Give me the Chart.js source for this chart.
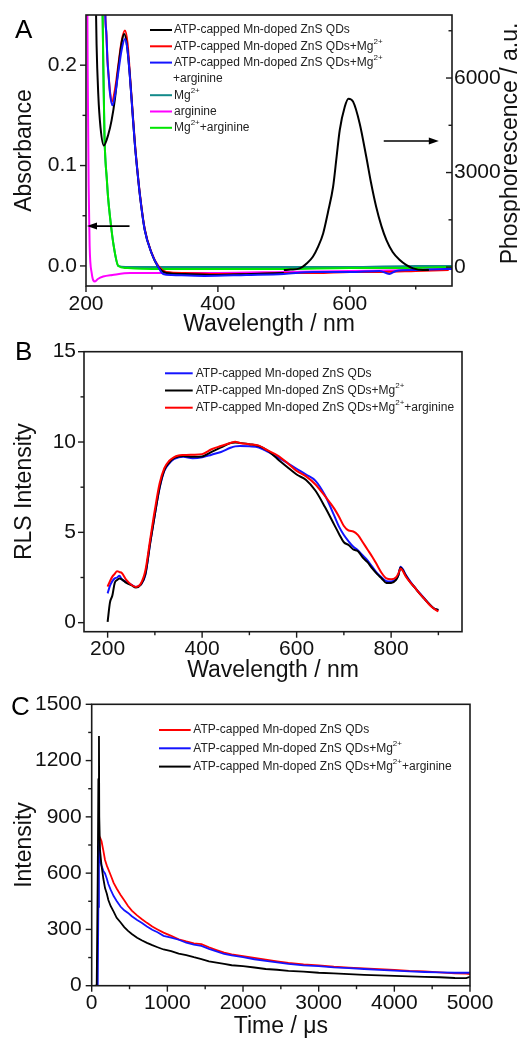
<!DOCTYPE html>
<html>
<head>
<meta charset="utf-8">
<script src="https://cdn.jsdelivr.net/npm/chart.js@4.4.0/dist/chart.umd.min.js"></script>
<style>
  html, body { margin:0; padding:0; background:#fff; overflow:hidden; }
  .panel { position:absolute; left:0; width:520px; }
</style>
</head>
<body>
<div class="panel" style="top:0"><canvas id="chartA" width="520" height="345"></canvas></div>
<div class="panel" style="top:330px"><canvas id="chartB" width="520" height="360"></canvas></div>
<div class="panel" style="top:680px"><canvas id="chartC" width="520" height="365"></canvas></div>
<script>
// ---------- DATA : panel A (absorbance + phosphorescence) ----------
const wlTicksA = [200, 400, 600];
const wlMinorA = [300, 500, 700];
const absTicks = [0, 0.1, 0.2];
const absMinor = [0.05, 0.15];
const phosTicks = [0, 3000, 6000];
const phosMinor = [1500, 4500, 7500];

const absBlackWl = [212, 214, 216, 218.6, 222, 227, 233.8, 238.8, 244, 249, 254, 258, 262, 266.7, 270, 274, 278, 282, 289, 299.5, 309.6, 322, 350, 400, 450, 500];
const absBlack   = [0.45, 0.30, 0.221, 0.171, 0.138, 0.120, 0.131, 0.145, 0.167, 0.197, 0.222, 0.231, 0.220, 0.188, 0.158, 0.122, 0.094, 0.069, 0.036, 0.0126, -0.001, -0.007, -0.008, -0.009, -0.008, -0.007];

const absRedWl = [227, 229, 231, 232.5, 234.4, 236.4, 239, 244, 249, 254, 259, 263, 266.7, 270, 274, 278, 282, 289, 299.5, 309.6, 322, 350, 400, 450, 500, 550, 600, 650, 700, 750];
const absRed   = [0.40, 0.26, 0.23, 0.206, 0.189, 0.174, 0.163, 0.176, 0.200, 0.224, 0.2345, 0.222, 0.190, 0.160, 0.124, 0.095, 0.070, 0.037, 0.013, 0.0, -0.006, -0.007, -0.008, -0.008, -0.007, -0.007, -0.006, -0.006, -0.005, -0.004];

const absBlueWl = [227, 229, 231, 232.5, 234.4, 236.4, 240, 244, 249, 254, 259, 263, 266.7, 270, 274, 278, 282, 289, 299.5, 309.6, 317, 330, 380, 443, 500, 544, 600, 645, 660, 670, 700, 746, 755];
const absBlue   = [0.40, 0.26, 0.23, 0.205, 0.188, 0.172, 0.160, 0.170, 0.193, 0.215, 0.226, 0.215, 0.187, 0.158, 0.122, 0.094, 0.069, 0.036, 0.0126, -0.001, -0.008, -0.009, -0.010, -0.009, -0.008, -0.006, -0.006, -0.005, -0.008, -0.005, -0.004, -0.003, -0.003];

const mgWl = [223, 225, 226.5, 228, 229.5, 231.3, 233.5, 236.4, 241.4, 249, 260, 300, 400, 500, 600, 700, 755];
const mg   = [0.45, 0.26, 0.19, 0.13, 0.105, 0.089, 0.068, 0.049, 0.0225, 0.0, -0.001, -0.001, -0.001, -0.001, -0.001, 0.0, 0.0];

const argWl = [201, 202.5, 204, 205.5, 208.6, 213.6, 218, 226, 240, 267, 300, 400, 500, 600, 700, 755];
const arg   = [0.40, 0.20, 0.08, 0.02, -0.007, -0.0156, -0.013, -0.0106, -0.009, -0.007, -0.007, -0.007, -0.006, -0.005, -0.004, -0.003];

const mgArgWl = [223, 225, 226.5, 228, 229.5, 231.3, 233.5, 236.4, 241.4, 249, 260, 300, 400, 500, 600, 700, 755];
const mgArg   = [0.45, 0.26, 0.19, 0.13, 0.105, 0.089, 0.068, 0.049, 0.0225, 0.0, -0.002, -0.003, -0.003, -0.003, -0.002, -0.002, -0.001];

const phosWl = [500, 510, 524, 535, 544, 552, 559.6, 567, 574.7, 580, 584.8, 592.4, 598, 605, 615, 625, 632, 640, 648, 655.6, 665, 675.8, 686, 696, 711, 720];
const phos   = [-95, -80, -42, 120, 328, 650, 1069, 1750, 2550, 3500, 4350, 5090, 5344, 5250, 4560, 3500, 2700, 1915, 1300, 857, 480, 222, 60, -42, -95, -90];

// ---------- DATA : panel B (RLS spectra) ----------
const wlTicksB = [200, 400, 600, 800];
const wlMinorB = [300, 500, 700, 900];
const rlsTicks = [0, 5, 10, 15];
const rlsMinor = [2.5, 7.5, 12.5];

const rlsWl = [200, 205, 210, 215, 220, 225, 230, 240, 250, 260, 270, 280, 290, 300, 310, 320, 330, 340, 350, 360,
               380, 400, 420, 440, 460, 470, 480, 500, 520, 540, 560, 580, 600, 620, 640, 660, 680, 690, 700, 710,
               720, 730, 740, 750, 760, 770, 780, 790, 800, 810, 815, 820, 825, 830, 840, 850, 860, 870, 880, 890, 900];
const rlsQD = [1.62, 2.05, 2.3, 2.45, 2.5, 2.6, 2.4, 2.25, 2.1, 1.98, 2.1, 2.65, 4.4, 6.0, 7.45, 8.4, 8.8, 9.05, 9.15, 9.18,
               9.1, 9.15, 9.3, 9.45, 9.68, 9.76, 9.78, 9.76, 9.7, 9.45, 9.15, 8.85, 8.52, 8.2, 7.85, 7.05, 5.9, 5.3, 4.85, 4.5,
               4.2, 4.0, 3.72, 3.45, 3.1, 2.75, 2.5, 2.3, 2.28, 2.4, 2.6, 3.1, 2.95, 2.7, 2.3, 1.95, 1.65, 1.35, 1.05, 0.8, 0.68];
const rlsMg = [0.05, 1.12, 1.5, 2.2, 2.36, 2.45, 2.4, 2.2, 2.08, 1.95, 2.1, 2.7, 4.4, 6.0, 7.5, 8.45, 8.85, 9.1, 9.2, 9.22,
               9.18, 9.2, 9.45, 9.7, 9.95, 9.98, 9.95, 9.88, 9.78, 9.5, 9.05, 8.62, 8.2, 7.9, 7.3, 6.4, 5.4, 4.9, 4.45, 4.3,
               4.05, 3.95, 3.6, 3.35, 3.0, 2.7, 2.45, 2.2, 2.2, 2.35, 2.6, 3.05, 2.9, 2.65, 2.25, 1.95, 1.62, 1.33, 1.05, 0.8, 0.7];
const rlsMgArg = [2.0, 2.3, 2.55, 2.7, 2.85, 2.8, 2.75, 2.35, 2.1, 1.98, 2.15, 2.9, 4.6, 6.25, 7.7, 8.55, 8.95, 9.15, 9.25, 9.28,
                  9.3, 9.33, 9.6, 9.78, 9.95, 10.02, 9.95, 9.88, 9.8, 9.52, 9.25, 8.85, 8.4, 8.1, 7.65, 7.0, 6.3, 5.85, 5.35, 5.1,
                  5.05, 4.85, 4.45, 4.05, 3.65, 3.2, 2.75, 2.45, 2.4, 2.5, 2.7, 3.0, 2.85, 2.6, 2.25, 1.95, 1.62, 1.33, 1.02, 0.78, 0.62];

// ---------- DATA : panel C (decay curves) ----------
const timeTicks = [0, 1000, 2000, 3000, 4000, 5000];
const timeMinor = [500, 1500, 2500, 3500, 4500];
const intTicks = [0, 300, 600, 900, 1200, 1500];
const intMinor = [150, 450, 750, 1050, 1350];

const decayTime = [0, 40, 66, 80, 88, 96, 100, 110, 130, 154, 176, 200, 220, 250, 290, 330, 380, 430, 480, 530,
                   600, 660, 730, 800, 870, 950, 1050, 1150, 1250, 1350, 1450, 1550, 1650, 1750, 1850, 2000, 2150, 2300, 2450, 2600,
                   2800, 3000, 3200, 3400, 3600, 3800, 4000, 4200, 4400, 4600, 4800, 4950, 5000];
const decayQD = [null, null, null, null, null, 812, 795, 790, 770, 720, 670, 640, 620, 590, 548, 518, 485, 455, 425, 400,
                 375, 356, 335, 315, 300, 283, 266, 247, 236, 226, 222, 205, 190, 176, 167, 158, 148, 139, 130, 121,
                 113, 108, 101, 96, 92, 88, 84, 79, 76, 71, 66, 65, 62];
const decayMg = [null, null, null, 0, 420, 780, 730, 670, 640, 612, 598, 570, 542, 512, 478, 452, 422, 402, 388, 370,
                 350, 336, 316, 298, 285, 266, 256, 245, 229, 219, 212, 196, 183, 169, 162, 152, 141, 132, 124, 116,
                 108, 104, 98, 94, 89, 84, 80, 76, 73, 71, 69, 69, 70];
const decayMgArg = [null, 0, 0, 600, 1100, 1331, 900, 723, 640, 570, 520, 490, 457, 425, 395, 362, 338, 312, 292, 276,
                    256, 242, 228, 216, 205, 193, 184, 171, 163, 152, 142, 130, 123, 116, 109, 104, 97, 89, 85, 79,
                    75, 69, 66, 62, 58, 55, 52, 50, 47, 45, 41, 40, 47];

// ---------- STÍLUS ----------
const FONT = "'Liberation Sans', Arial, Helvetica, sans-serif";
const INK = '#111';
const C_BLACK = '#000000', C_RED = '#ff0000', C_BLUE = '#1414ff';
const C_TEAL = '#138a8a', C_MAG = '#ff00ff', C_GREEN = '#00e600';

function pts(xs, ys){ return xs.map((x, i) => ({ x, y: ys[i] })); }

function lineSet(xs, ys, color, order, extra){
  return Object.assign({
    data: pts(xs, ys), borderColor: color, backgroundColor: color,
    borderWidth: 2, pointRadius: 0, fill: false, order, spanGaps: false
  }, extra || {});
}

function axisX(min, max, ticks, title, h, titlePad){
  return {
    type: 'linear', min, max,
    afterBuildTicks: s => { s.ticks = ticks.map(v => ({ value: v })); },
    afterFit: s => { s.height = h; s.paddingLeft = 0; s.paddingRight = 0; },
    grid: { display: false, drawTicks: true, tickLength: 6 },
    border: { display: false },
    ticks: { color: INK, padding: 1.5, autoSkip: false, maxRotation: 0, font: { family: FONT, size: 21, lineHeight: 1 }, callback: v => String(v) },
    title: { display: true, text: title, color: INK, font: { family: FONT, size: 23 }, padding: { top: 0, bottom: titlePad } }
  };
}

function axisY(min, max, ticks, fmt, title, w, labelPad, pos){
  const ax = {
    type: 'linear', min, max, position: pos || 'left',
    afterBuildTicks: s => { s.ticks = ticks.map(v => ({ value: v })); },
    afterFit: s => { s.width = w; s.paddingTop = 0; s.paddingBottom = 0; },
    grid: { display: false, drawTicks: pos !== 'right', tickLength: 6 },
    border: { display: false },
    ticks: { color: INK, padding: labelPad, autoSkip: false, font: { family: FONT, size: 21, lineHeight: 1 }, callback: fmt },
    title: { display: false }
  };
  if(title){
    ax.title = { display: true, text: title, color: INK, font: { family: FONT, size: 23 }, padding: { top: 11, bottom: 0 } };
  }
  return ax;
}

// szöveg felső indexszel: {2+}
function richText(ctx, str, x, y, size){
  const parts = str.split(/(\{[^}]*\})/);
  let cx = x;
  parts.forEach(p => {
    if(!p) return;
    if(p[0] === '{'){
      const t = p.slice(1, -1);
      ctx.font = `${Math.round(size * 0.65)}px ${FONT}`;
      ctx.fillText(t, cx, y - size * 0.4);
      cx += ctx.measureText(t).width;
    }else{
      ctx.font = `${size}px ${FONT}`;
      ctx.fillText(p, cx, y);
      cx += ctx.measureText(p).width;
    }
  });
}

function drawTicks(ctx, chart, t){
  const s = chart.scales[t.id];
  const a = chart.chartArea;
  const one = (v, len) => {
    const p = s.getPixelForValue(v);
    ctx.beginPath();
    if(s.position === 'left'){
      ctx.moveTo(a.left, p); ctx.lineTo(a.left + (t.inward ? len : -len), p);
    }else if(s.position === 'right'){
      ctx.moveTo(a.right, p); ctx.lineTo(a.right + (t.inward ? -len : len), p);
    }else{
      ctx.moveTo(p, a.bottom); ctx.lineTo(p, a.bottom + (t.inward ? -len : len));
    }
    ctx.stroke();
  };
  t.major.forEach(v => one(v, 6));
  t.minor.forEach(v => one(v, 3.5));
}

function drawArrow(ctx, x1, y1, x2, y2){
  const ang = Math.atan2(y2 - y1, x2 - x1);
  const hl = 10, hw = 3.5;
  const c = Math.cos(ang), s = Math.sin(ang);
  ctx.beginPath(); ctx.moveTo(x1, y1); ctx.lineTo(x2 - hl * c * 0.7, y2 - hl * s * 0.7); ctx.stroke();
  ctx.beginPath();
  ctx.moveTo(x2, y2);
  ctx.lineTo(x2 - hl * c + hw * s, y2 - hl * s - hw * c);
  ctx.lineTo(x2 - hl * c - hw * s, y2 - hl * s + hw * c);
  ctx.closePath(); ctx.fill();
}

// díszítés panelenként (keret, kis osztások, jelmagyarázat, betű, nyilak)
const deco = {};
const decoPlugin = {
  id: 'deco',
  afterDraw(chart){
    const d = deco[chart.canvas.id];
    if(!d) return;
    const ctx = chart.ctx, a = chart.chartArea;
    ctx.save();
    ctx.strokeStyle = '#1a1a1a'; ctx.lineWidth = 1.6;
    ctx.strokeRect(a.left, a.top, a.right - a.left, a.bottom - a.top);
    ctx.lineWidth = 1.4;
    d.ticks.forEach(t => drawTicks(ctx, chart, t));

    (d.arrows || []).forEach(ar => {
      const xs = chart.scales.x, ys = chart.scales[ar.axis];
      ctx.strokeStyle = '#000'; ctx.fillStyle = '#000'; ctx.lineWidth = 1.6;
      drawArrow(ctx, xs.getPixelForValue(ar.from), ys.getPixelForValue(ar.y), xs.getPixelForValue(ar.to), ys.getPixelForValue(ar.y));
    });

    const L = d.legend;
    let y = a.top + L.dy;
    ctx.textAlign = 'left'; ctx.textBaseline = 'middle';
    L.items.forEach(it => {
      ctx.strokeStyle = it.color; ctx.lineWidth = 2;
      ctx.beginPath(); ctx.moveTo(a.left + L.x1, y); ctx.lineTo(a.left + L.x2, y); ctx.stroke();
      ctx.fillStyle = '#222';
      richText(ctx, it.text, a.left + L.tx, y, 12);
      y += L.step;
      if(it.more){ richText(ctx, it.more, a.left + L.tx - 1, y, 12); y += L.step; }
    });

    ctx.fillStyle = '#000';
    ctx.textBaseline = 'alphabetic';
    ctx.font = `26px ${FONT}`;
    ctx.fillText(d.letter, d.letterX, d.letterY);

    if(d.rightTitle){
      ctx.translate(chart.width - 9, (a.top + a.bottom) / 2 - 7);
      ctx.rotate(-Math.PI / 2);
      ctx.textAlign = 'center'; ctx.textBaseline = 'middle';
      ctx.fillStyle = INK;
      ctx.font = `23px ${FONT}`;
      ctx.fillText(d.rightTitle, 0, 0);
    }
    ctx.restore();
  }
};

const baseOpts = (padTop, padRight) => ({
  responsive: false, animation: false, devicePixelRatio: 1, events: [],
  layout: { padding: { top: padTop, right: padRight, left: 0, bottom: 0 } },
  plugins: { legend: { display: false }, tooltip: { enabled: false } }
});

// ---------- A ----------
deco.chartA = {
  letter: 'A', letterX: 15, letterY: 38,
  rightTitle: 'Phosphorescence / a.u.',
  ticks: [
    { id: 'x', major: wlTicksA, minor: wlMinorA },
    { id: 'y', major: absTicks, minor: absMinor },
    { id: 'y1', major: phosTicks, minor: phosMinor, inward: true }
  ],
  arrows: [
    { from: 266, to: 201.5, y: 0.0397, axis: 'y' },
    { from: 651.5, to: 735, y: 4000, axis: 'y1' }
  ],
  legend: { x1: 64, x2: 86, tx: 88, dy: 15, step: 16.3, items: [
    { color: C_BLACK, text: 'ATP-capped Mn-doped ZnS QDs' },
    { color: C_RED, text: 'ATP-capped Mn-doped ZnS QDs+Mg{2+}' },
    { color: C_BLUE, text: 'ATP-capped Mn-doped ZnS QDs+Mg{2+}', more: '+arginine' },
    { color: C_TEAL, text: 'Mg{2+}' },
    { color: C_MAG, text: 'arginine' },
    { color: C_GREEN, text: 'Mg{2+}+arginine' }
  ]}
};
const mono = { cubicInterpolationMode: 'monotone' };
const optsA = baseOpts(15, 0);
optsA.scales = {
  x: axisX(200, 755, wlTicksA, 'Wavelength / nm', 59, 6.7),
  y: axisY(-0.02, 0.25, absTicks, v => v.toFixed(1), 'Absorbance', 86, 3),
  y1: axisY(-600, 8000, phosTicks, v => String(v), null, 68, 2, 'right')
};
new Chart(document.getElementById('chartA'), {
  type: 'line',
  data: { datasets: [
    lineSet(phosWl, phos, C_BLACK, 0, Object.assign({ yAxisID: 'y1' }, mono)),
    lineSet(absBlueWl, absBlue, C_BLUE, 1, Object.assign({ yAxisID: 'y' }, mono)),
    lineSet(absBlackWl, absBlack, C_BLACK, 2, Object.assign({ yAxisID: 'y' }, mono)),
    lineSet(absRedWl, absRed, C_RED, 3, Object.assign({ yAxisID: 'y' }, mono)),
    lineSet(mgArgWl, mgArg, C_GREEN, 4, Object.assign({ yAxisID: 'y' }, mono)),
    lineSet(mgWl, mg, C_TEAL, 5, Object.assign({ yAxisID: 'y' }, mono)),
    lineSet(argWl, arg, C_MAG, 6, Object.assign({ yAxisID: 'y' }, mono))
  ]},
  options: optsA,
  plugins: [decoPlugin]
});

// ---------- B ----------
deco.chartB = {
  letter: 'B', letterX: 15, letterY: 30,
  ticks: [
    { id: 'x', major: wlTicksB, minor: wlMinorB },
    { id: 'y', major: rlsTicks, minor: rlsMinor }
  ],
  legend: { x1: 81, x2: 108.7, tx: 111.7, dy: 21.6, step: 17.2, items: [
    { color: C_BLUE, text: 'ATP-capped Mn-doped ZnS QDs' },
    { color: C_BLACK, text: 'ATP-capped Mn-doped ZnS QDs+Mg{2+}' },
    { color: C_RED, text: 'ATP-capped Mn-doped ZnS QDs+Mg{2+}+arginine' }
  ]}
};
const optsB = baseOpts(21.7, 58);
optsB.scales = {
  x: axisX(150, 950, wlTicksB, 'Wavelength / nm', 58.3, 5.2),
  y: axisY(-0.5, 15, rlsTicks, v => String(v), 'RLS Intensity', 84, 2)
};
new Chart(document.getElementById('chartB'), {
  type: 'line',
  data: { datasets: [
    lineSet(rlsWl, rlsMgArg, C_RED, 0, mono),
    lineSet(rlsWl, rlsMg, C_BLACK, 1, mono),
    lineSet(rlsWl, rlsQD, C_BLUE, 2, mono)
  ]},
  options: optsB,
  plugins: [decoPlugin]
});

// ---------- C ----------
deco.chartC = {
  letter: 'C', letterX: 11, letterY: 35,
  ticks: [
    { id: 'x', major: timeTicks, minor: timeMinor },
    { id: 'y', major: intTicks, minor: intMinor }
  ],
  legend: { x1: 67.3, x2: 99, tx: 101.6, dy: 25.7, step: 18.3, items: [
    { color: C_RED, text: 'ATP-capped Mn-doped ZnS QDs' },
    { color: C_BLUE, text: 'ATP-capped Mn-doped ZnS QDs+Mg{2+}' },
    { color: C_BLACK, text: 'ATP-capped Mn-doped ZnS QDs+Mg{2+}+arginine' }
  ]}
};
const optsC = baseOpts(24.3, 50);
optsC.scales = {
  x: axisX(0, 5000, timeTicks, 'Time / μs', 59.3, 4.7),
  y: axisY(0, 1500, intTicks, v => String(v), 'Intensity', 91.7, 4)
};
new Chart(document.getElementById('chartC'), {
  type: 'line',
  data: { datasets: [
    lineSet(decayTime, decayMgArg, C_BLACK, 0, { borderWidth: 1.8 }),
    lineSet(decayTime, decayMg, C_BLUE, 1, { borderWidth: 1.8 }),
    lineSet(decayTime, decayQD, C_RED, 2, { borderWidth: 1.8 })
  ]},
  options: optsC,
  plugins: [decoPlugin]
});
</script>
</body>
</html>
